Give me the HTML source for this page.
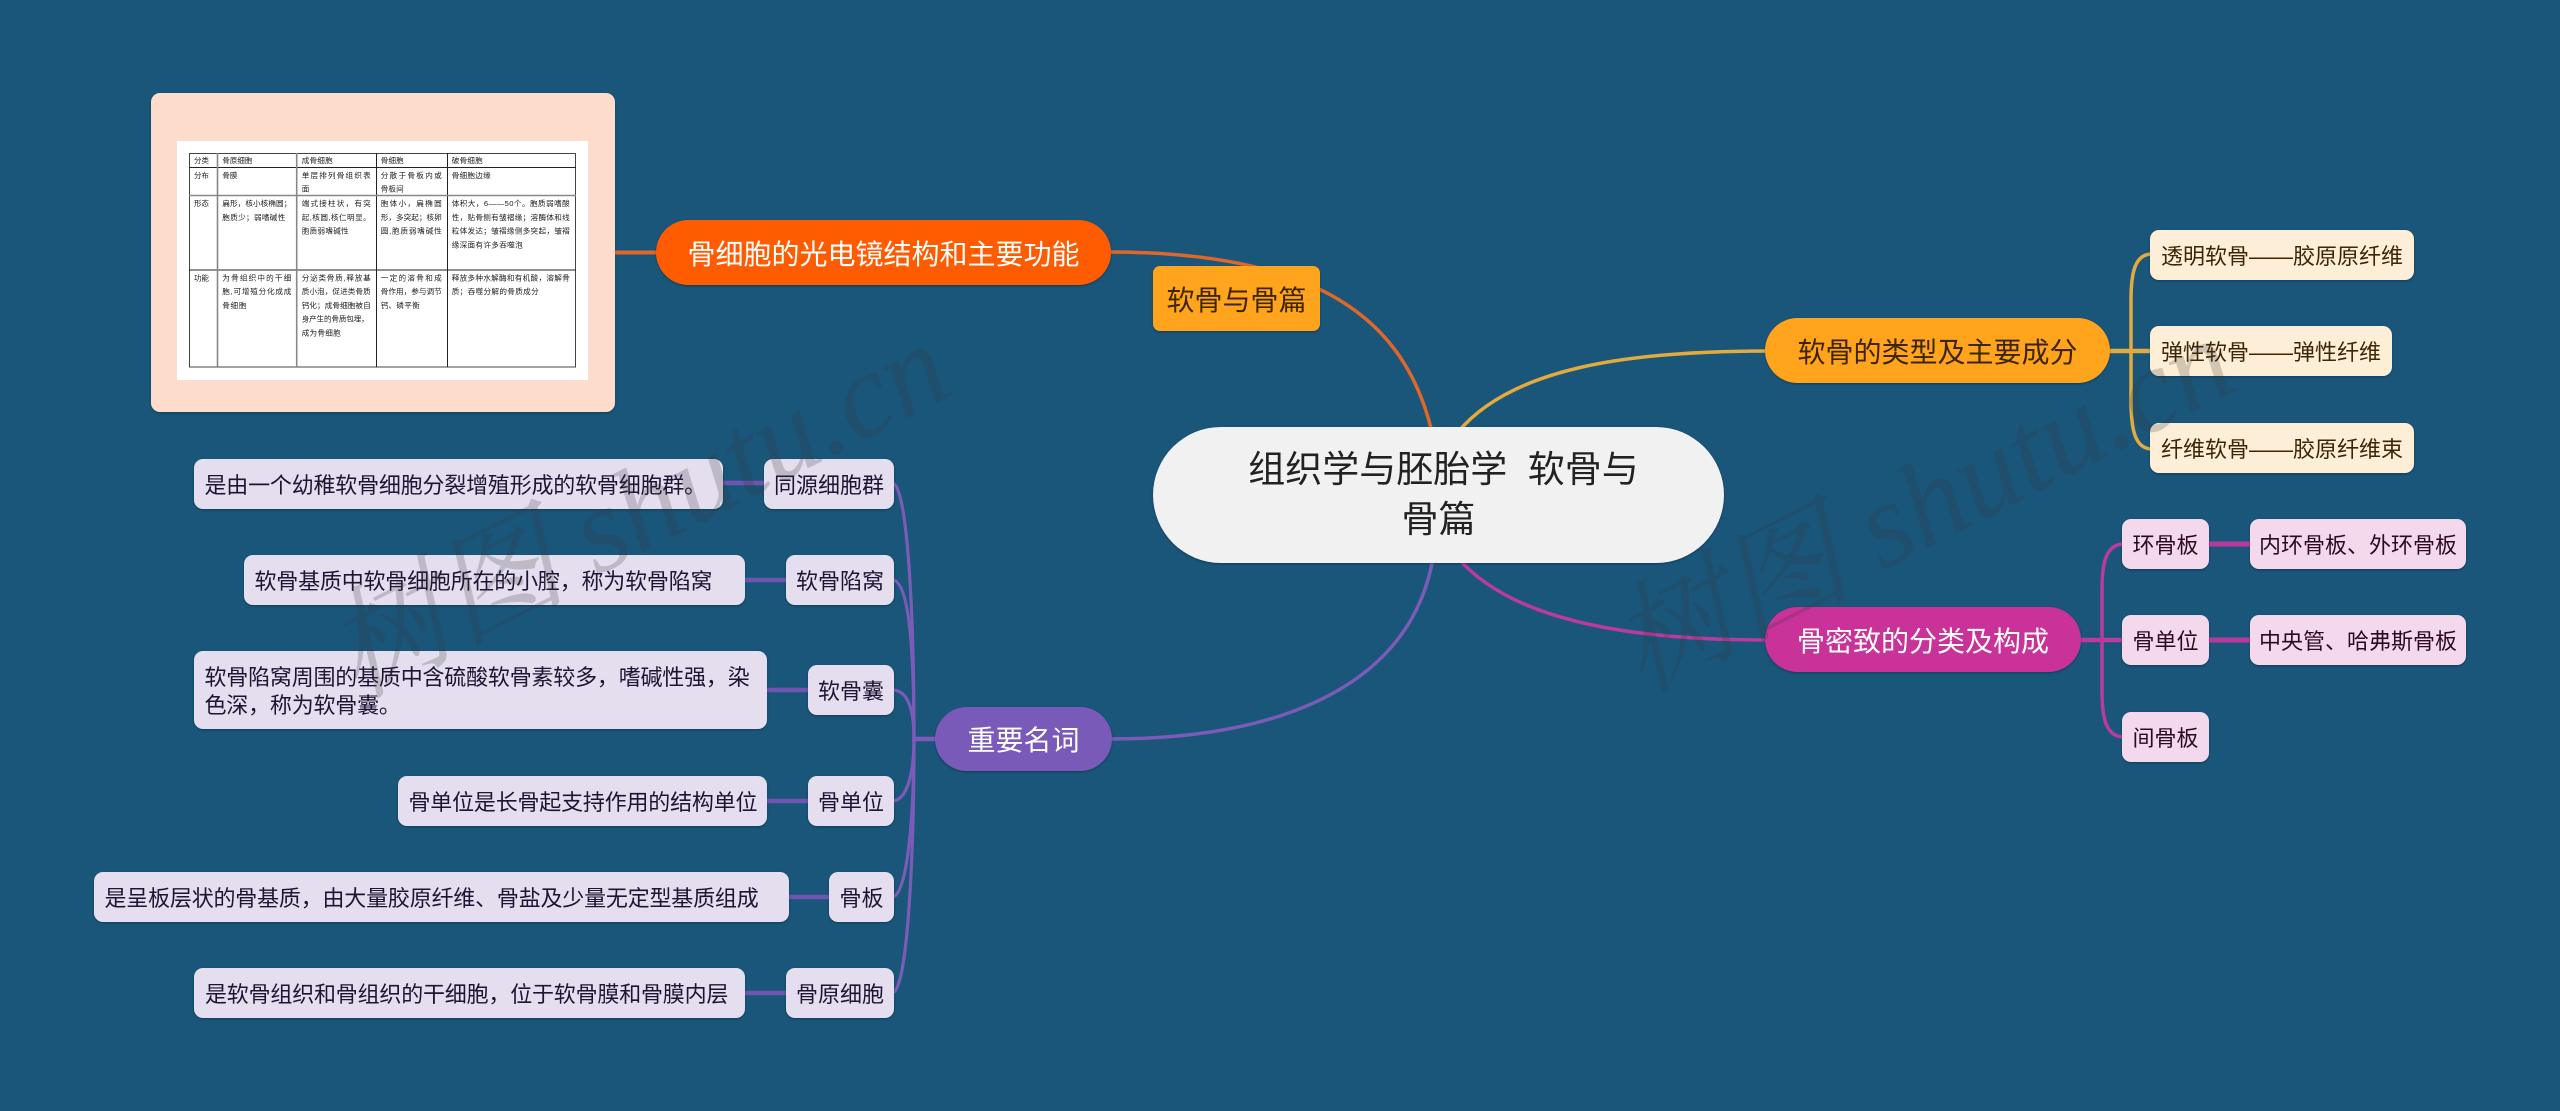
<!DOCTYPE html>
<html lang="zh">
<head>
<meta charset="utf-8">
<title>组织学与胚胎学 软骨与骨篇</title>
<style>
html,body{margin:0;padding:0;background:#19567a;}
#p{position:relative;width:2560px;height:1111px;overflow:hidden;background:#19567a;font-family:"Liberation Sans","Noto Sans CJK SC",sans-serif;}
svg.l{position:absolute;left:0;top:0;}
.n{position:absolute;box-sizing:border-box;display:flex;align-items:center;white-space:nowrap;box-shadow:0 1px 2px rgba(0,0,0,.3);}
.c{justify-content:center;text-align:center;}
.t{font-size:22px;border-radius:9px;padding:3px 11px 0;line-height:28px;height:50px;}
.d{letter-spacing:-.2px;}
.y{background:#fdeed7;color:#3d2505;}
.m{background:#f4d9ec;color:#2c0a22;}
.v{background:#e4deef;color:#1f1433;}
.b{font-size:28px;border-radius:33px;height:65px;}
.w{position:absolute;font-family:"Liberation Serif","Noto Serif CJK SC",serif;font-style:italic;font-size:120px;line-height:130px;color:rgba(55,55,60,.22);white-space:pre;transform:rotate(-27deg);transform-origin:center center;}
</style>
</head>
<body>
<div id="p">
<svg class="l" width="2560" height="1111" viewBox="0 0 2560 1111" fill="none">
  <!-- orange -->
  <path d="M615 252.5H660" stroke="#e0672a" stroke-width="4"/>
  <path d="M1108 252C1320 252 1405 320 1432 432" stroke="#e0672a" stroke-width="3.5"/>
  <!-- yellow -->
  <path d="M1458 432C1510 370 1620 351 1768 351" stroke="#e3aa3e" stroke-width="3.5"/>
  <path d="M2108 351H2152" stroke="#e3aa3e" stroke-width="4.5"/>
  <path d="M2152 254C2134 254 2131 275 2131 300V400C2131 427 2134 449 2152 449" stroke="#e3aa3e" stroke-width="3.5"/>
  <!-- magenta -->
  <path d="M1458 558C1510 618 1620 640 1768 640" stroke="#bb3a9e" stroke-width="3.5"/>
  <path d="M2079 640H2124" stroke="#bb3a9e" stroke-width="4.5"/>
  <path d="M2124 544C2105 544 2102 565 2102 590V690C2102 716 2105 737 2124 737" stroke="#bb3a9e" stroke-width="3.5"/>
  <path d="M2207 544H2252M2207 640H2252" stroke="#bb3a9e" stroke-width="5"/>
  <!-- purple -->
  <path d="M1433 558C1412 680 1290 739 1110 739" stroke="#7a5cb8" stroke-width="3.5"/>
  <path d="M937 739H912" stroke="#7a5cb8" stroke-width="4.5"/>
  <g stroke="#7a5cb8" stroke-width="3.2">
    <path d="M914 739C914 620 908 483 892 483"/>
    <path d="M914 739C914 640 908 580 892 580"/>
    <path d="M914 739C914 710 908 690 892 690"/>
    <path d="M914 739C914 770 908 801 892 801"/>
    <path d="M914 739C914 810 908 897 892 897"/>
    <path d="M914 739C914 850 908 993 892 993"/>
  </g>
  <g stroke="#6d55b0" stroke-width="4.5">
    <path d="M720 483H766M743 580H788M765 690H810M765 801H810M787 897H831M743 993H788"/>
  </g>
</svg>

<!-- image card -->
<div style="position:absolute;left:151px;top:93px;width:464px;height:319px;background:#fedccb;border-radius:9px;box-shadow:0 1px 2px rgba(0,0,0,.3);"></div>
<svg class="l" width="2560" height="1111" viewBox="0 0 2560 1111" style="filter:blur(.25px)">
  <rect x="177" y="141" width="411" height="239" fill="#fff"/>
  <g fill="none" stroke="#222" stroke-width="1">
    <rect x="189.5" y="153.5" width="386" height="213.5" stroke="#444"/>
    <path d="M189 167.5H576M189 270H576M376.5 153V367M447.5 153V367"/>
  </g>
  <g fill="none" stroke="#888" stroke-width="1.6">
    <path d="M189 195.5H576M217.5 153V367M296.7 153V367"/>
  </g>
  <g font-size="7.6" fill="#222" font-family="'Liberation Sans','Noto Sans CJK SC',sans-serif" lengthAdjust="spacing">
    <text x="194" y="163" textLength="15">分类</text>
    <text x="222.3" y="163" textLength="30">骨原细胞</text>
    <text x="301.7" y="163" textLength="31">成骨细胞</text>
    <text x="380.7" y="163" textLength="23">骨细胞</text>
    <text x="451.7" y="163" textLength="31">破骨细胞</text>

    <text x="194" y="178" textLength="15">分布</text>
    <text x="222.3" y="178" textLength="15">骨膜</text>
    <text x="301.7" y="178" textLength="69">单层排列骨组织表</text>
    <text x="301.7" y="191.3">面</text>
    <text x="380.7" y="178" textLength="61">分散于骨板内或</text>
    <text x="380.7" y="191.3" textLength="23">骨板间</text>
    <text x="451.7" y="178" textLength="39">骨细胞边缘</text>

    <text x="194" y="206" textLength="15">形态</text>
    <text x="222.3" y="206" textLength="69">扁形，核小核椭圆；</text>
    <text x="222.3" y="220" textLength="63">胞质少；弱嗜碱性</text>
    <text x="301.7" y="206" textLength="69">端式接柱状，有突</text>
    <text x="301.7" y="220" textLength="69">起,核圆,核仁明显。</text>
    <text x="301.7" y="233.7" textLength="47">胞质弱嗜碱性</text>
    <text x="380.7" y="206" textLength="61">胞体小，扁椭圆</text>
    <text x="380.7" y="220" textLength="61">形，多突起；核卵</text>
    <text x="380.7" y="233.7" textLength="61">圆,胞质弱嗜碱性</text>
    <text x="451.7" y="206" textLength="118">体积大，6——50个。胞质弱嗜酸</text>
    <text x="451.7" y="220" textLength="118">性，贴骨侧有皱褶缘；溶酶体和线</text>
    <text x="451.7" y="233.7" textLength="118">粒体发达；皱褶缘侧多突起，皱褶</text>
    <text x="451.7" y="247.7" textLength="71">缘深面有许多吞噬泡</text>

    <text x="194" y="280.3" textLength="15">功能</text>
    <text x="222.3" y="280.3" textLength="69">为骨组织中的干细</text>
    <text x="222.3" y="294" textLength="69">胞,可增殖分化成成</text>
    <text x="222.3" y="308" textLength="24">骨细胞</text>
    <text x="301.7" y="280.3" textLength="69">分泌类骨质,释放基</text>
    <text x="301.7" y="294" textLength="69">质小泡，促进类骨质</text>
    <text x="301.7" y="308" textLength="69">钙化；成骨细胞被自</text>
    <text x="301.7" y="321.7" textLength="67">身产生的骨质包埋，</text>
    <text x="301.7" y="335.3" textLength="39">成为骨细胞</text>
    <text x="380.7" y="280.3" textLength="61">一定的溶骨和成</text>
    <text x="380.7" y="294" textLength="61">骨作用，参与调节</text>
    <text x="380.7" y="308" textLength="39">钙、磷平衡</text>
    <text x="451.7" y="280.3" textLength="118">释放多种水解酶和有机酸，溶解骨</text>
    <text x="451.7" y="294" textLength="87">质；吞噬分解的骨质成分</text>
  </g>
</svg>

<!-- centre and main nodes -->
<div class="n c" style="left:1153px;top:427px;width:571px;height:136px;border-radius:68px;background:#f1f1f1;color:#222;font-size:37px;line-height:50px;white-space:normal;padding:0 40px;"><div><span style="position:relative;left:5px;">组织学与胚胎学&nbsp;&nbsp;软骨与</span><br>骨篇</div></div>
<div class="n c" style="left:1153px;top:266px;width:167px;height:65px;border-radius:7px;background:#ffa41c;color:#3d2505;font-size:28px;">软骨与骨篇</div>
<div class="n c b" style="left:656px;top:220px;width:455px;background:#ff5b00;color:#fff;">骨细胞的光电镜结构和主要功能</div>
<div class="n c b" style="left:1765px;top:318px;width:345px;background:#ffa41c;color:#3d2505;">软骨的类型及主要成分</div>
<div class="n c b" style="left:1765px;top:607px;width:316px;background:#c93298;color:#fff;">骨密致的分类及构成</div>
<div class="n c b" style="left:935px;top:707px;width:177px;height:64px;background:#7a5ab8;color:#fff;">重要名词</div>

<!-- yellow leaves -->
<div class="n t y" style="left:2150px;top:230px;width:264px;">透明软骨——胶原原纤维</div>
<div class="n t y" style="left:2150px;top:326px;width:242px;">弹性软骨——弹性纤维</div>
<div class="n t y" style="left:2150px;top:423px;width:264px;">纤维软骨——胶原纤维束</div>

<!-- magenta leaves -->
<div class="n t m c" style="left:2122px;top:519px;width:87px;">环骨板</div>
<div class="n t m c" style="left:2122px;top:615px;width:87px;">骨单位</div>
<div class="n t m c" style="left:2122px;top:712px;width:87px;">间骨板</div>
<div class="n t m c" style="left:2250px;top:519px;width:216px;">内环骨板、外环骨板</div>
<div class="n t m c" style="left:2250px;top:615px;width:216px;">中央管、哈弗斯骨板</div>

<!-- purple tags -->
<div class="n t v c" style="left:764px;top:459px;width:130px;">同源细胞群</div>
<div class="n t v c" style="left:786px;top:555px;width:108px;">软骨陷窝</div>
<div class="n t v c" style="left:808px;top:665px;width:86px;">软骨囊</div>
<div class="n t v c" style="left:808px;top:776px;width:86px;">骨单位</div>
<div class="n t v c" style="left:829px;top:872px;width:65px;">骨板</div>
<div class="n t v c" style="left:786px;top:968px;width:108px;">骨原细胞</div>

<!-- purple descriptions -->
<div class="n t v d" style="left:193.5px;top:459px;width:529.5px;">是由一个幼稚软骨细胞分裂增殖形成的软骨细胞群。</div>
<div class="n t v d" style="left:243.5px;top:555px;width:501.5px;">软骨基质中软骨细胞所在的小腔，称为软骨陷窝</div>
<div class="n t v d" style="left:193.5px;top:651px;width:573.5px;height:78px;">软骨陷窝周围的基质中含硫酸软骨素较多，嗜碱性强，染<br>色深，称为软骨囊。</div>
<div class="n t v d" style="left:397.5px;top:776px;width:369.5px;">骨单位是长骨起支持作用的结构单位</div>
<div class="n t v d" style="left:93.5px;top:872px;width:695.5px;">是呈板层状的骨基质，由大量胶原纤维、骨盐及少量无定型基质组成</div>
<div class="n t v d" style="left:194px;top:968px;width:551px;">是软骨组织和骨组织的干细胞，位于软骨膜和骨膜内层</div>

<!-- watermarks -->
<div class="w" style="left:288px;top:445px;width:700px;text-align:center;">树图 shutu.cn</div>
<div class="w" style="left:1573px;top:440px;width:700px;text-align:center;">树图 shutu.cn</div>
</div>
</body>
</html>
